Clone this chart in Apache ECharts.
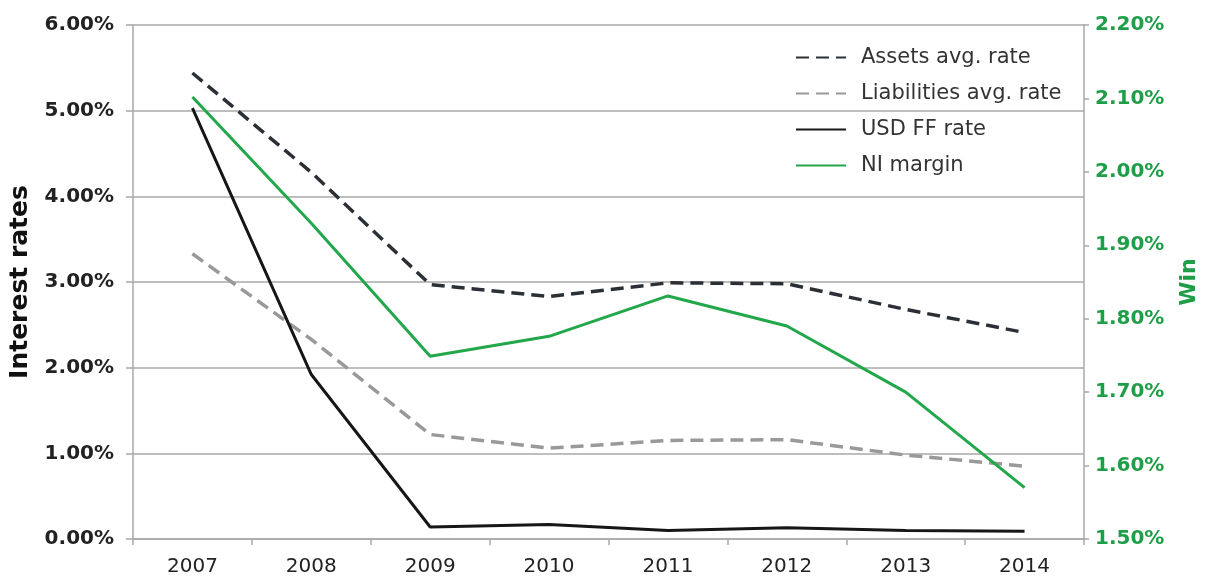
<!DOCTYPE html>
<html>
<head>
<meta charset="utf-8">
<script src="https://cdn.jsdelivr.net/npm/echarts@6/dist/echarts.min.js"></script>
<style>
  html, body { margin: 0; padding: 0; background: #ffffff; }
  #chart { width: 1208px; height: 578px; }
</style>
</head>
<body>
<div id="chart"></div>
<script>
// Years on the category axis
const years = ['2007', '2008', '2009', '2010', '2011', '2012', '2013', '2014'];

// Interest rates (left axis, %)
const assetsAvgRate      = [5.44, 4.28, 2.97, 2.83, 2.99, 2.98, 2.68, 2.41];
const liabilitiesAvgRate = [3.33, 2.33, 1.22, 1.06, 1.15, 1.16, 0.98, 0.85];
const usdFFRate          = [5.03, 1.92, 0.14, 0.17, 0.10, 0.13, 0.10, 0.09];

// Net interest margin (right axis, %)
const niMargin = [2.102, 1.930, 1.749, 1.776, 1.831, 1.790, 1.700, 1.570];

// Axis ranges
const leftAxisRange  = { min: 0, max: 6, interval: 1 };
const rightAxisRange = { min: 1.5, max: 2.2, interval: 0.1 };

const FONT = '"DejaVu Sans", "Liberation Sans", Arial, sans-serif';
const GREEN = '#22a74b';
const GREEN_TEXT = '#1f9e48';
const GRID_GRAY = '#a8a8a8';

const chart = echarts.init(document.getElementById('chart'), null, { renderer: 'canvas' });

const pct = v => Number(v).toFixed(2) + '%';

chart.setOption({
  animation: false,
  backgroundColor: '#ffffff',
  textStyle: { fontFamily: FONT },
  grid: { left: 132, right: 122, top: 25, bottom: 39, containLabel: false },
  legend: {
    orient: 'vertical',
    left: 795,
    top: 47,
    padding: 0,
    itemWidth: 50,
    itemHeight: 14,
    itemGap: 15,
    itemStyle: { opacity: 0 },
    textStyle: { fontFamily: FONT, fontSize: 21, color: '#333333', padding: [0, 0, 0, 10] },
    data: ['Assets avg. rate', 'Liabilities avg. rate', 'USD FF rate', 'NI margin']
  },
  xAxis: {
    type: 'category',
    data: years,
    boundaryGap: true,
    axisLine: { show: true, lineStyle: { color: GRID_GRAY, width: 1.5 } },
    axisTick: { show: true, length: 6, alignWithLabel: false, lineStyle: { color: GRID_GRAY, width: 1.5 } },
    axisLabel: { fontFamily: FONT, fontSize: 20, color: '#222222', margin: 18 }
  },
  yAxis: [
    {
      type: 'value',
      position: 'left',
      min: leftAxisRange.min,
      max: leftAxisRange.max,
      interval: leftAxisRange.interval,
      name: 'Interest rates',
      nameLocation: 'middle',
      nameRotate: 90,
      nameGap: 100,
      nameTextStyle: { fontFamily: FONT, fontSize: 25, fontWeight: 'bold', color: '#111111' },
      axisLine: { show: true, lineStyle: { color: GRID_GRAY, width: 1.5 } },
      axisTick: { show: true, length: 7, lineStyle: { color: GRID_GRAY, width: 1.5 } },
      splitLine: { show: true, lineStyle: { color: GRID_GRAY, width: 1.5 } },
      axisLabel: { fontFamily: FONT, fontSize: 20, fontWeight: 'bold', color: '#222222', margin: 19, formatter: pct }
    },
    {
      type: 'value',
      position: 'right',
      min: rightAxisRange.min,
      max: rightAxisRange.max,
      interval: rightAxisRange.interval,
      name: 'Win',
      nameLocation: 'middle',
      nameRotate: 90,
      nameGap: 94,
      nameTextStyle: { fontFamily: FONT, fontSize: 22, fontWeight: 'bold', color: GREEN_TEXT },
      axisLine: { show: true, lineStyle: { color: GRID_GRAY, width: 1.5 } },
      axisTick: { show: true, length: 5, lineStyle: { color: GRID_GRAY, width: 1.5 } },
      splitLine: { show: false },
      axisLabel: { fontFamily: FONT, fontSize: 20, fontWeight: 'bold', color: GREEN_TEXT, margin: 11, formatter: pct }
    }
  ],
  series: [
    {
      name: 'Assets avg. rate',
      type: 'line',
      yAxisIndex: 0,
      data: assetsAvgRate,
      symbol: 'none',
      z: 3,
      lineStyle: { color: '#2b3036', width: 3.5, type: [13, 7] },
      itemStyle: { color: '#2b3036' }
    },
    {
      name: 'Liabilities avg. rate',
      type: 'line',
      yAxisIndex: 0,
      data: liabilitiesAvgRate,
      symbol: 'none',
      z: 3,
      lineStyle: { color: '#999999', width: 3.5, type: [13, 7] },
      itemStyle: { color: '#999999' }
    },
    {
      name: 'USD FF rate',
      type: 'line',
      yAxisIndex: 0,
      data: usdFFRate,
      symbol: 'none',
      z: 3,
      lineStyle: { color: '#161616', width: 3 },
      itemStyle: { color: '#161616' }
    },
    {
      name: 'NI margin',
      type: 'line',
      yAxisIndex: 1,
      data: niMargin,
      symbol: 'none',
      z: 4,
      lineStyle: { color: GREEN, width: 3 },
      itemStyle: { color: GREEN }
    }
  ]
});
</script>
</body>
</html>
